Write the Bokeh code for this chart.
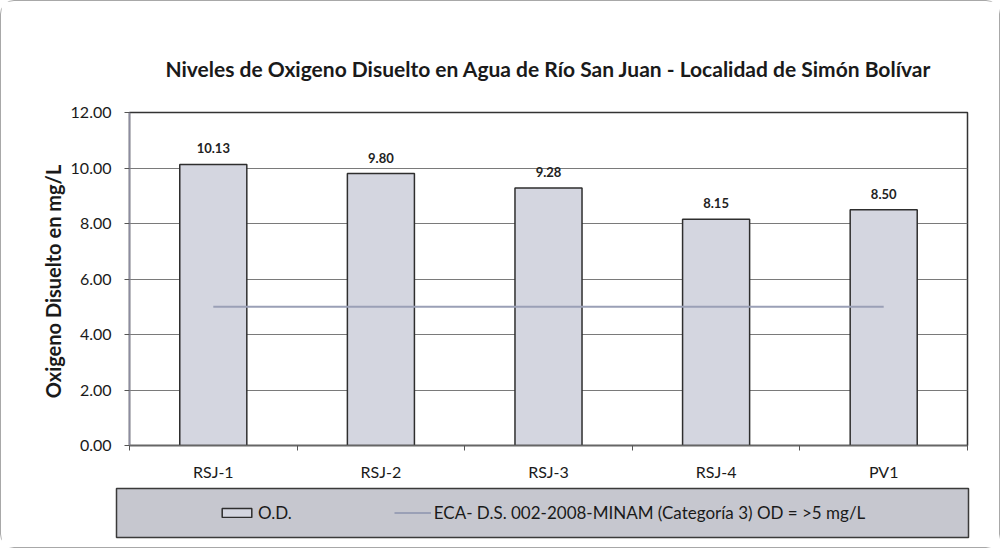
from bokeh.plotting import figure
from bokeh.layouts import column
from bokeh.models import (ColumnDataSource, FixedTicker, LabelSet, Legend, LegendItem,
                          NumeralTickFormatter, Range1d)
from bokeh.core.properties import value
from bokeh.embed import file_html
from bokeh.resources import INLINE

# ---- data ----
stations = ["RSJ-1", "RSJ-2", "RSJ-3", "RSJ-4", "PV1"]
od_values = [10.13, 9.80, 9.28, 8.15, 8.50]
eca_limit = [5.0, 5.0, 5.0, 5.0, 5.0]
y_ticks = [0, 2, 4, 6, 8, 10, 12]
title_text = "Niveles de Oxigeno Disuelto en Agua de Río San Juan - Localidad de Simón Bolívar"
y_label = "Oxigeno Disuelto en  mg/L"
legend_bar = "O.D."
legend_line = "ECA- D.S. 002-2008-MINAM (Categoría 3) OD = >5 mg/L"

FONT = "Lato"
BAR_FILL = "#d4d6e0"
BAR_LINE = "#2e2e2e"
ECA_COLOR = "#9aa0b6"

centers = [i + 0.5 for i in range(len(stations))]
bounds = list(range(len(stations) + 1))

src = ColumnDataSource(dict(
    x=centers, od=od_values, eca=eca_limit,
    lab=["%.2f" % v for v in od_values],
))

p = figure(width=998, height=484, output_backend="svg", toolbar_location=None,
           x_range=Range1d(0, len(stations)), y_range=Range1d(0, 12),
           min_border_left=128, min_border_right=32, min_border_top=111,
           min_border_bottom=40)
p.frame_align = False

p.background_fill_color = "white"
p.border_fill_color = "white"
p.outline_line_color = "#333333"
p.outline_line_width = 1.5

bars = p.vbar(x="x", top="od", width=0.4, source=src, fill_color=BAR_FILL,
              line_color=BAR_LINE, line_width=1.5)
eca = p.line(x="x", y="eca", source=src, line_color=ECA_COLOR, line_width=2)

labels = LabelSet(x="x", y="od", text="lab", source=src, text_align="center",
                  text_baseline="bottom", y_offset=11, text_font_size="13px",
                  text_font_style="bold", text_color="#222222", text_font=value(FONT))
p.add_layout(labels)

# title
p.title.text = title_text
p.title.text_font = FONT
p.title.text_font_size = "21px"
p.title.text_font_style = "bold"
p.title.align = "center"
p.title.text_color = "#1a1a1a"
p.title.offset = 0
p.title.standoff = 64

# y axis
p.yaxis.ticker = FixedTicker(ticks=y_ticks)
p.yaxis.formatter = NumeralTickFormatter(format="0.00")
p.yaxis.axis_label = y_label
p.yaxis.axis_label_text_font = FONT
p.yaxis.axis_label_text_font_size = "20px"
p.yaxis.axis_label_text_font_style = "bold"
p.yaxis.axis_label_text_color = "#1a1a1a"
p.yaxis.axis_label_standoff = 3
p.yaxis.major_label_text_font = FONT
p.yaxis.major_label_text_font_size = "16px"
p.yaxis.major_label_text_color = "#1a1a1a"
p.yaxis.major_label_standoff = 13
p.yaxis.axis_line_color = "#8c8ca0"
p.yaxis.axis_line_width = 1.5
p.yaxis.major_tick_line_color = "#555555"
p.yaxis.major_tick_in = 0
p.yaxis.major_tick_out = 5
p.yaxis.minor_tick_line_color = None

# x axis
p.xaxis.ticker = FixedTicker(ticks=centers, minor_ticks=bounds)
p.xaxis.major_label_overrides = {c: s for c, s in zip(centers, stations)}
p.xaxis.major_label_text_font = FONT
p.xaxis.major_label_text_font_size = "16px"
p.xaxis.major_label_text_color = "#1a1a1a"
p.xaxis.major_label_standoff = 10
p.xaxis.major_tick_line_color = None
p.xaxis.minor_tick_line_color = "#555555"
p.xaxis.minor_tick_in = 0
p.xaxis.minor_tick_out = 5
p.xaxis.axis_line_color = "#666666"
p.xaxis.axis_line_width = 1.5

p.xgrid.grid_line_color = None
p.ygrid.grid_line_color = "#7a7a7a"
p.ygrid.grid_line_width = 1

# ---- legend strip (its frame is the grey legend box) ----
lg = figure(width=998, height=62, output_backend="svg", toolbar_location=None,
            x_range=Range1d(0, 1), y_range=Range1d(0, 1),
            x_axis_location=None, y_axis_location=None,
            min_border_left=115, min_border_right=31, min_border_top=3,
            min_border_bottom=10)
lg.frame_align = False
lg.background_fill_color = "#c6c7cf"
lg.border_fill_color = "white"
lg.outline_line_color = "#3a3a3a"
lg.outline_line_width = 1.5
lg.grid.grid_line_color = None

# legend proxies: same styles as the chart's series, kept outside the visible range
proxy_bar = lg.vbar(x=[-5], top=[-5], width=0.1, fill_color=BAR_FILL,
                    line_color=BAR_LINE, line_width=1.5)
proxy_line = lg.line(x=[-6, -5], y=[-5, -5], line_color=ECA_COLOR, line_width=2)

legend = Legend(items=[LegendItem(label=legend_bar, renderers=[proxy_bar]),
                       LegendItem(label=legend_line, renderers=[proxy_line])],
                orientation="horizontal", location=(102, 14),
                background_fill_alpha=0, border_line_color=None,
                padding=0, margin=0, spacing=102,
                glyph_width=37, glyph_height=11, label_standoff=3,
                label_text_font=FONT, label_text_font_size="17px",
                label_text_color="#1a1a1a")
lg.add_layout(legend, "center")

layout = column(p, lg, spacing=0)
layout.styles = {"border": "1.5px solid #a8a8a8", "border-radius": "14px"}

open("out.html", "w").write(file_html(layout, INLINE))
